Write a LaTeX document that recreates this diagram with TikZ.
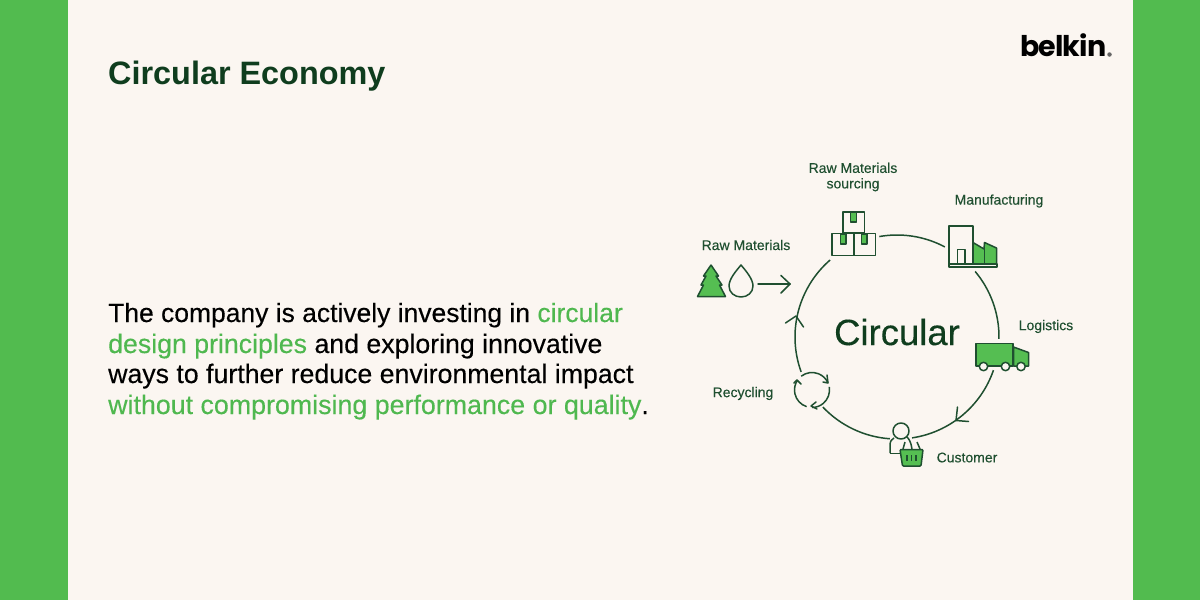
\documentclass[tikz,border=0pt]{standalone}
\usepackage{fontspec}
\usetikzlibrary{calc,arrows.meta}
\setmainfont{Liberation Sans}
\newfontfamily\logofont[LetterSpace=-3]{Poppins}
\newfontfamily\medfont[FakeBold=0.25]{Liberation Sans}
\definecolor{sidegreen}{HTML}{52BB4F}
\definecolor{panelbg}{HTML}{FBF6F1}
\definecolor{darkgreen}{HTML}{0F3D1E}
\definecolor{linegreen}{HTML}{1F4F30}
\definecolor{fillgreen}{HTML}{55BE52}
\definecolor{textgreen}{HTML}{4FB84F}
\tikzset{
  x=1pt,y=-1pt,
  label text/.style={font=\fontsize{14}{15.5}\selectfont\medfont,text=linegreen,inner sep=0pt,align=center},
  icon/.style={draw=linegreen,line width=1.5pt,line join=round},
  flow/.style={draw=linegreen,line width=1.5pt},
  chevron/.style={draw=linegreen,line width=1.5pt,line cap=round,line join=round},
  body text/.style={font=\fontsize{26.7}{31}\selectfont\medfont,text=black,anchor=base west,inner sep=0pt}
}
\begin{document}
\begin{tikzpicture}
\useasboundingbox (0,0) rectangle (1200,600);
\fill[sidegreen] (0,0) rectangle (1200,600);
\fill[panelbg] (68,0) rectangle (1133,600);
\node[anchor=base west,inner sep=0pt,text=darkgreen,font=\fontsize{32.4}{34}\selectfont\bfseries] (title) at (108,84) {Circular Economy};
\node[anchor=east,inner sep=0pt,text=black,font=\fontsize{28.5}{30}\selectfont\logofont\bfseries] (logo) at (1106.5,45) {belkin};
\node[circle,fill=black!60,inner sep=0pt,minimum size=4.5pt] (logodot) at (1109.5,54.5) {};
\node[body text,font=\fontsize{26.45}{31}\selectfont\medfont] (l1) at (108,322) {The company is actively investing in \textcolor{textgreen}{circular}};
\node[body text] (l2) at (108,353) {\textcolor{textgreen}{design principles} and exploring innovative};
\node[body text] (l3) at (108,383) {ways to further reduce environmental impact};
\node[body text,font=\fontsize{26.8}{31}\selectfont\medfont] (l4) at (108,414) {\textcolor{textgreen}{without compromising performance or quality}.};
\node[text=darkgreen,inner sep=0pt,font=\fontsize{36.5}{40}\selectfont\medfont] (centre) at (897,332) {Circular};
\node[label text] (lraw) at (746,245) {Raw Materials};
\node[label text] (lsrc) at (853,177) {Raw Materials\\sourcing};
\node[label text] (lman) at (999,201) {Manufacturing};
\node[label text] (llog) at (1046,326.5) {Logistics};
\node[label text] (lcus) at (967,457.5) {Customer};
\node[label text] (lrec) at (743,393.5) {Recycling};
\coordinate (c) at (897,337);
% arcs
\foreach \a/\b in {260/298,320/361,19/81.5,94/136.6,160/229}{
  \draw[flow] ($(c)+(\a:102)$) arc[start angle=\a,end angle=\b,radius=102];
}
% arc chevrons
\draw[chevron] (785.5,323) -- (796,316) -- (803.5,327);
\draw[chevron] (957.5,407) -- (956,420.5) -- (968.5,421.5);
% input arrow
\coordinate (inA) at (758,284);
\coordinate (inB) at (790,284);
\draw[chevron] (inA) -- (inB);
\draw[chevron] (781,275.5) -- (790,284) -- (781,293);
% tree
\path[fill=fillgreen,icon] (711,265) -- (718.5,276) -- (716,276) -- (722,285) -- (719.5,285) -- (725.5,296.5) -- (697.5,296.5) -- (703.5,285) -- (701,285) -- (706,276) -- (703.5,276) -- cycle;
% drop
\draw[icon] (741,265) .. controls (746,271) and (753,279) .. (753,286) .. controls (753,292.5) and (747.5,297) .. (741,297) .. controls (734.5,297) and (729,292.5) .. (729,286) .. controls (729,279) and (736,271) .. (741,265) -- cycle;
% boxes
\draw[icon] (843,212) rectangle (864.5,233);
\draw[icon] (832,233.5) rectangle (854,255.5);
\draw[icon] (854,233.5) rectangle (875.5,255.5);
\draw[icon,fill=fillgreen] (850.5,212) rectangle (856.5,222);
\draw[icon,fill=fillgreen] (840.5,234) rectangle (846,244);
\draw[icon,fill=fillgreen] (861.5,234) rectangle (867,244);
% factory
\path[icon,fill=fillgreen] (973,242.5) -- (984,249) -- (984.5,242.5) -- (996.5,248) -- (996.5,264) -- (973,264) -- cycle;
\draw[icon] (984.5,242.5) -- (984.5,264);
\draw[icon,fill=panelbg] (949,226) rectangle (973,264);
\draw[icon] (957.5,249.5) rectangle (965,264);
\draw[icon,fill=panelbg] (949,264) rectangle (997,267);
% truck
\path[icon,fill=fillgreen] (976,343.5) rectangle (1013,366);
\path[icon,fill=fillgreen] (1013.5,347) -- (1028.5,352.5) -- (1028.5,366) -- (1013.5,366) -- cycle;
\foreach \w in {983.5,1005.5,1021}{\draw[icon,fill=panelbg] (\w,366.5) circle[radius=4.2];}
% recycling
\coordinate (rc) at (812,390);
\foreach \a/\b in {232/336,350/450,108/214}{
  \draw[flow] ($(rc)+(\a:17.5)$) arc[start angle=\a,end angle=\b,radius=17.5];
}
\draw[chevron] (823,382) -- (828,383) -- (827,375);
\draw[chevron] (816,402) -- (811,406) -- (817,409);
\draw[chevron] (794,383) -- (797,380) -- (801,384);
% customer
\draw[icon] (901,431) circle[radius=8];
\draw[icon] (890,453) -- (890,445) .. controls (890,441) and (892,439) .. (894,438);
\draw[icon] (890,453.5) -- (900,453.5);
\draw[icon] (907,437) .. controls (909,439) and (911,442) .. (912,449);
\path[icon,fill=fillgreen,rounded corners=1pt] (900,449.5) -- (923,449.5) -- (921,466) -- (902.5,466) -- cycle;
\draw[icon] (903,449) -- (905,442);
\draw[icon] (920,449) -- (917,442);
\foreach \t in {907,911.5,916}{\draw[draw=linegreen,line width=1.1pt] (\t,455) -- (\t,461);}
\end{tikzpicture}
\end{document}
